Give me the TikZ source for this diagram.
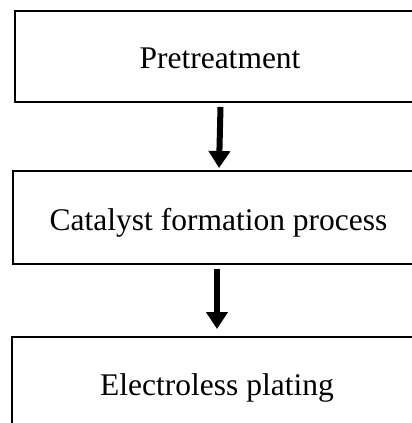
\documentclass[tikz,border=0pt]{standalone}
\usepackage{fontspec}
\setmainfont{Liberation Serif}
\usetikzlibrary{arrows.meta,calc}
\begin{document}
\begin{tikzpicture}[x=1pt,y=-1pt,
  box/.style={draw, line width=2pt, inner sep=0pt},
  lbl/.style={font=\fontsize{31.5}{38}\selectfont, anchor=base, inner sep=0pt},
  arr/.style={line width=6pt, -{Triangle[width=21pt,length=17pt]}}]
\useasboundingbox (0,0) rectangle (412,423);
% boxes
\node[box, minimum width=410pt, minimum height=91pt] (b1) at (220,56.5) {};
\node[box, minimum width=411pt, minimum height=93pt] (b2) at (218.5,217.5) {};
\node[box, minimum width=410pt, minimum height=94pt] (b3) at (217,384) {};
% labels
\node[lbl] (t1) at (220,68) {Pretreatment};
\node[lbl] (t2) at (218.5,230) {Catalyst formation process};
\node[lbl] (t3) at (217,395) {Electroless plating};
% arrows
\draw[arr] ($(b1.south)+(0.5,4)$) -- ($(b2.north)+(0.5,-2)$);
\draw[arr] ($(b2.south)+(-1.5,4)$) -- ($(b3.north)+(0,-7)$);
\end{tikzpicture}
\end{document}
